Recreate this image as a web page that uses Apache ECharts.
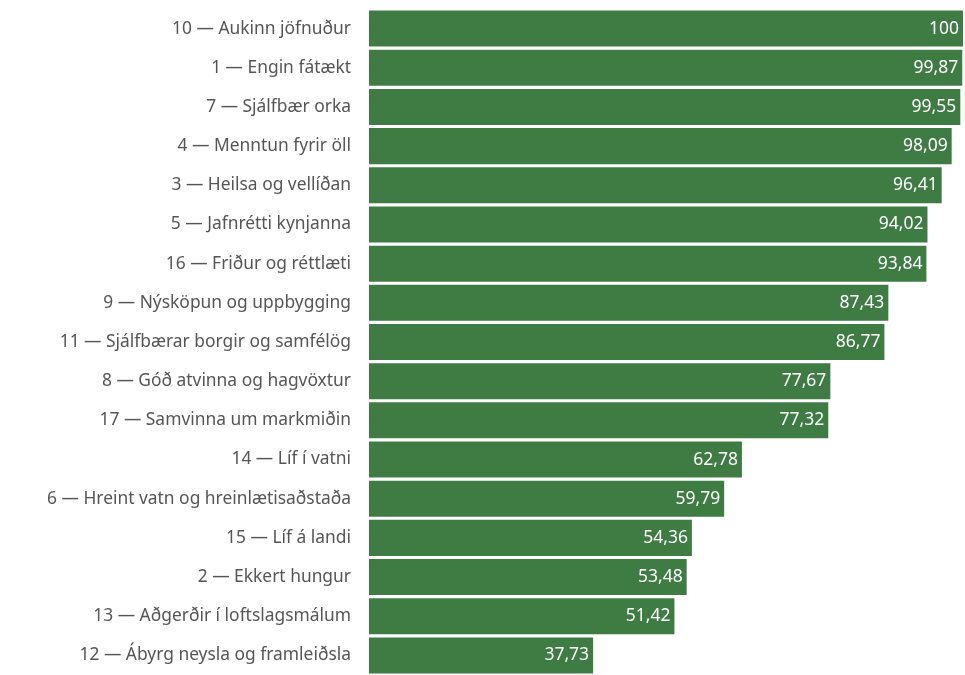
<!DOCTYPE html>
<html>
<head>
<meta charset="utf-8">
<script src="https://cdn.jsdelivr.net/npm/echarts@6/dist/echarts.min.js"></script>
<style>
  html, body { margin: 0; padding: 0; background: #fff; }
  #chart { width: 965px; height: 675px; }
</style>
</head>
<body>
<div id="chart"></div>
<script>
// flokkar (efst -> neðst)
const categories = [
  '10 — Aukinn jöfnuður',
  '1 — Engin fátækt',
  '7 — Sjálfbær orka',
  '4 — Menntun fyrir öll',
  '3 — Heilsa og vellíðan',
  '5 — Jafnrétti kynjanna',
  '16 — Friður og réttlæti',
  '9 — Nýsköpun og uppbygging',
  '11 — Sjálfbærar borgir og samfélög',
  '8 — Góð atvinna og hagvöxtur',
  '17 — Samvinna um markmiðin',
  '14 — Líf í vatni',
  '6 — Hreint vatn og hreinlætisaðstaða',
  '15 — Líf á landi',
  '2 — Ekkert hungur',
  '13 — Aðgerðir í loftslagsmálum',
  '12 — Ábyrg neysla og framleiðsla'
];
const values = [100, 99.87, 99.55, 98.09, 96.41, 94.02, 93.84, 87.43, 86.77, 77.67, 77.32, 62.78, 59.79, 54.36, 53.48, 51.42, 37.73];

const chart = echarts.init(document.getElementById('chart'));

const option = {
  animation: false,
  textStyle: { fontFamily: 'Noto Sans' },
  grid: { left: 369, right: 2, top: 9, bottom: 0 },
  xAxis: {
    type: 'value',
    min: 0,
    max: 100,
    show: false
  },
  yAxis: {
    type: 'category',
    inverse: true,
    data: categories,
    axisLine: { show: false },
    axisTick: { show: false },
    axisLabel: { color: '#555', fontSize: 17.4, margin: 18 }
  },
  series: [{
    type: 'bar',
    data: values,
    barCategoryGap: '8%',
    itemStyle: { color: '#3e7c44' },
    label: {
      show: true,
      position: 'insideRight',
      distance: 4,
      color: '#fff',
      fontSize: 17.5,
      formatter: p => String(p.value).replace('.', ',')
    }
  }]
};

chart.setOption(option);
</script>
</body>
</html>
